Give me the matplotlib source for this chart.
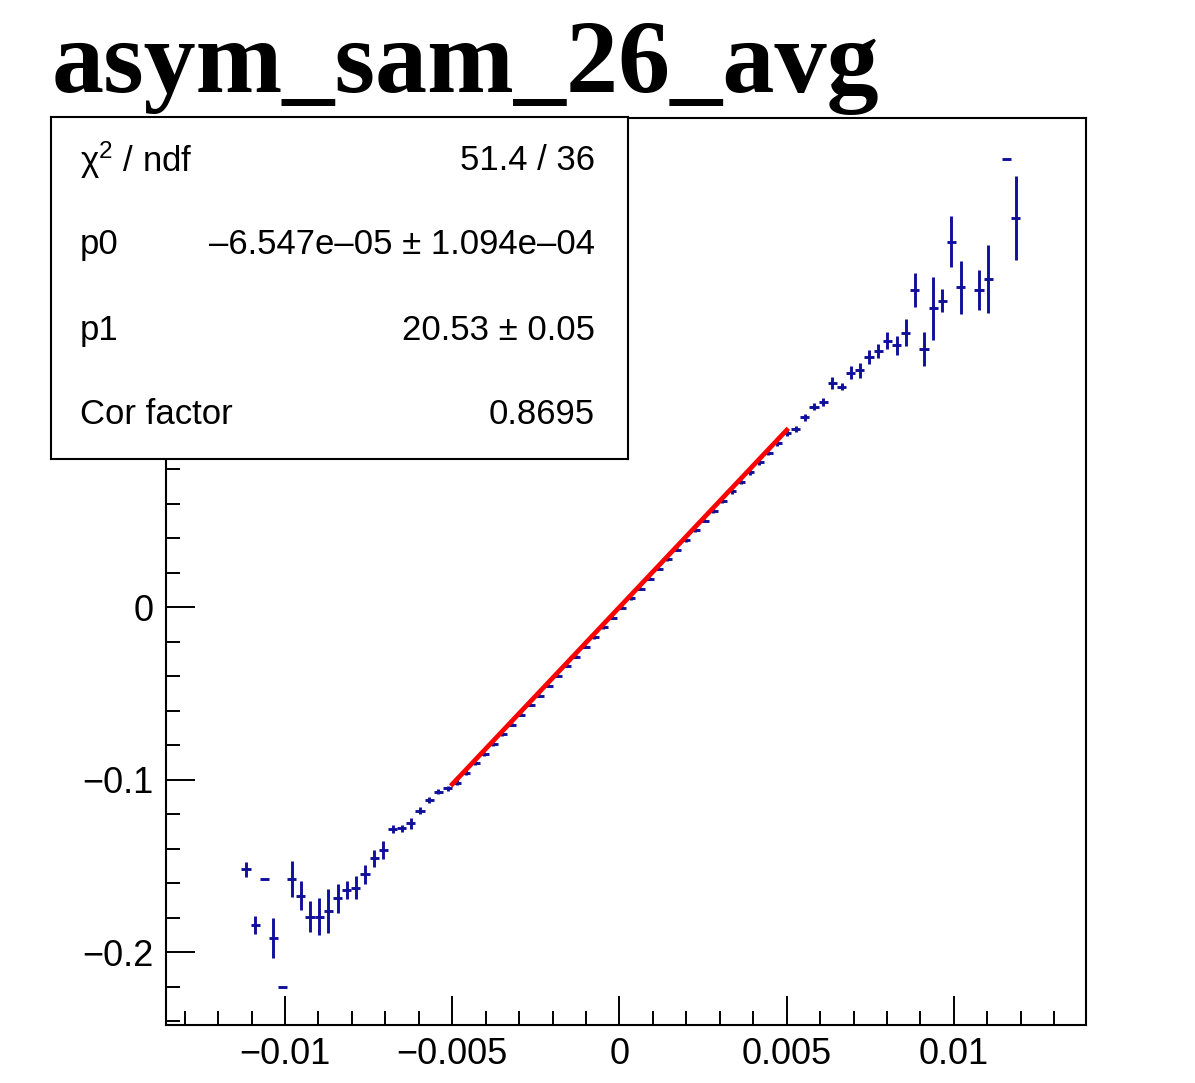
import numpy as np
import matplotlib.pyplot as plt
from matplotlib.ticker import MultipleLocator

# profile bins (centre, mean, error on mean)
x = [-0.011170, -0.010896, -0.010622, -0.010348, -0.010074, -0.009800, -0.009526,
     -0.009252, -0.008978, -0.008704, -0.008430, -0.008156, -0.007882, -0.007608,
     -0.007334, -0.007060, -0.006786, -0.006512, -0.006238, -0.005964, -0.005690,
     -0.005416, -0.005142, -0.004868, -0.004594, -0.004320, -0.004046, -0.003772,
     -0.003498, -0.003224, -0.002950, -0.002676, -0.002402, -0.002128, -0.001854,
     -0.001580, -0.001306, -0.001032, -0.000758, -0.000484, -0.000210, 0.000064,
     0.000338, 0.000612, 0.000886, 0.001160, 0.001434, 0.001708, 0.001982,
     0.002256, 0.002530, 0.002804, 0.003078, 0.003352, 0.003626, 0.003900,
     0.004174, 0.004448, 0.004722, 0.004996, 0.005270, 0.005544, 0.005818,
     0.006092, 0.006366, 0.006640, 0.006914, 0.007188, 0.007462, 0.007736,
     0.008010, 0.008284, 0.008558, 0.008832, 0.009106, 0.009380, 0.009654,
     0.009928, 0.010202, 0.010750, 0.011024, 0.011572, 0.011846]

y = [-0.1521, -0.1843, -0.1579, -0.1921, -0.2201, -0.1579, -0.1673,
     -0.1795, -0.1795, -0.1762, -0.1689, -0.1641, -0.1627, -0.1550,
     -0.1457, -0.1409, -0.1287, -0.1283, -0.1254, -0.1181, -0.1119,
     -0.1071, -0.1050, -0.1018, -0.0960, -0.0906, -0.0850, -0.0793,
     -0.0737, -0.0682, -0.0624, -0.0566, -0.0513, -0.0456, -0.0399,
     -0.0341, -0.0288, -0.0229, -0.0175, -0.0118, -0.0062, -0.0004,
     0.0050, 0.0107, 0.0164, 0.0220, 0.0276, 0.0332, 0.0388,
     0.0445, 0.0501, 0.0556, 0.0613, 0.0670, 0.0725, 0.0781,
     0.0838, 0.0893, 0.0950, 0.1010, 0.1030, 0.1100, 0.1160,
     0.1188, 0.1298, 0.1277, 0.1358, 0.1372, 0.1448, 0.1484,
     0.1545, 0.1518, 0.1590, 0.1838, 0.1496, 0.1732, 0.1776,
     0.2118, 0.1853, 0.1838, 0.1900, 0.2595, 0.2253]

yerr = [0.0043, 0.0052, 0.0, 0.0116, 0.0, 0.0104, 0.0082,
        0.0090, 0.0106, 0.0130, 0.0083, 0.0054, 0.0066, 0.0055,
        0.0048, 0.0050, 0.0025, 0.0020, 0.0030, 0.0020, 0.0015,
        0.0015, 0.0015, 0.0015, 0.0014, 0.0012, 0.0012, 0.0011,
        0.0010, 0.0010, 0.0009, 0.0009, 0.0008, 0.0008, 0.0008,
        0.0008, 0.0008, 0.0008, 0.0008, 0.0008, 0.0008, 0.0008,
        0.0008, 0.0008, 0.0008, 0.0008, 0.0008, 0.0009, 0.0009,
        0.0010, 0.0010, 0.0011, 0.0011, 0.0012, 0.0012, 0.0013,
        0.0014, 0.0014, 0.0015, 0.0016, 0.0017, 0.0019, 0.0020,
        0.0023, 0.0035, 0.0020, 0.0037, 0.0043, 0.0041, 0.0039,
        0.0052, 0.0055, 0.0079, 0.0097, 0.0100, 0.0184, 0.0068,
        0.0147, 0.0153, 0.0114, 0.0197, 0.0, 0.0244]

bin_width = 0.000274

# fit result
p0 = -6.547e-05
p1 = 20.53
fit_range = [-0.005, 0.005]
stats_labels = ['\u03c7$^{2}$ / ndf', 'p0', 'p1', 'Cor factor']
stats_values = ['51.4 / 36', '\u20136.547e\u201305 \u00b1 1.094e\u201304',
                '20.53 \u00b1 0.05', '0.8695']

xticks = [-0.01, -0.005, 0, 0.005, 0.01]
xticklabels = ['\u22120.01', '\u22120.005', '0', '0.005', '0.01']
yticks = [-0.2, -0.1, 0, 0.1, 0.2]
yticklabels = ['\u22120.2', '\u22120.1', '0', '0.1', '0.2']

plt.rcParams['font.family'] = ['Liberation Sans', 'DejaVu Sans']
plt.rcParams['mathtext.fontset'] = 'custom'
plt.rcParams['mathtext.rm'] = 'Liberation Sans'
plt.rcParams['mathtext.it'] = 'Liberation Sans'
plt.rcParams['mathtext.default'] = 'rm'

W, H = 1195, 1083
fig = plt.figure(figsize=(W / 100, H / 100), dpi=100)
ax = fig.add_axes([166 / W, 1 - 1025 / H, (1086 - 166) / W, (1025 - 118) / H])

blue = '#10109a'
ax.errorbar(x, y, yerr=yerr, xerr=bin_width / 2, fmt='none', ecolor=blue,
            elinewidth=2.1, capsize=0, zorder=2)

fx = np.linspace(fit_range[0], fit_range[1], 200)
ax.plot(fx, p0 + p1 * fx, color='red', lw=3.4, zorder=3)

ax.set_xlim(-0.01356, 0.01395)
ax.set_ylim(-0.2423, 0.2835)
ax.set_xticks(xticks)
ax.set_xticklabels(xticklabels)
ax.set_yticks(yticks)
ax.set_yticklabels(yticklabels)
# labels above 0 sit under the stats box, as in ROOT
for lab, t in zip(ax.get_yticklabels(), yticks):
    if t > 0.05:
        lab.set_visible(False)
ax.xaxis.set_minor_locator(MultipleLocator(0.001))
ax.yaxis.set_minor_locator(MultipleLocator(0.02))
ax.tick_params(which='both', direction='in', top=False, right=False,
               width=1.4, labelsize=26, pad=9)
ax.tick_params(which='major', length=21)
ax.tick_params(which='minor', length=10)
for s in ax.spines.values():
    s.set_linewidth(1.5)

fig.text(52 / W, 1 - 92 / H, 'asym_sam_26_avg', family='Liberation Serif',
         weight='bold', fontsize=75, va='baseline', ha='left')

# stats box
sb = fig.add_axes([51 / W, 1 - 459 / H, 577 / W, 342 / H])
sb.set_xticks([])
sb.set_yticks([])
sb.set_facecolor('white')
for s in sb.spines.values():
    s.set_linewidth(1.5)
rows = [0.874, 0.626, 0.377, 0.129]
for ry, lab, val in zip(rows, stats_labels, stats_values):
    sb.text(0.050, ry, lab, fontsize=25, va='center', ha='left', transform=sb.transAxes)
    sb.text(0.943, ry, val, fontsize=25, va='center', ha='right', transform=sb.transAxes)

fig.savefig('out.png', dpi=100)
